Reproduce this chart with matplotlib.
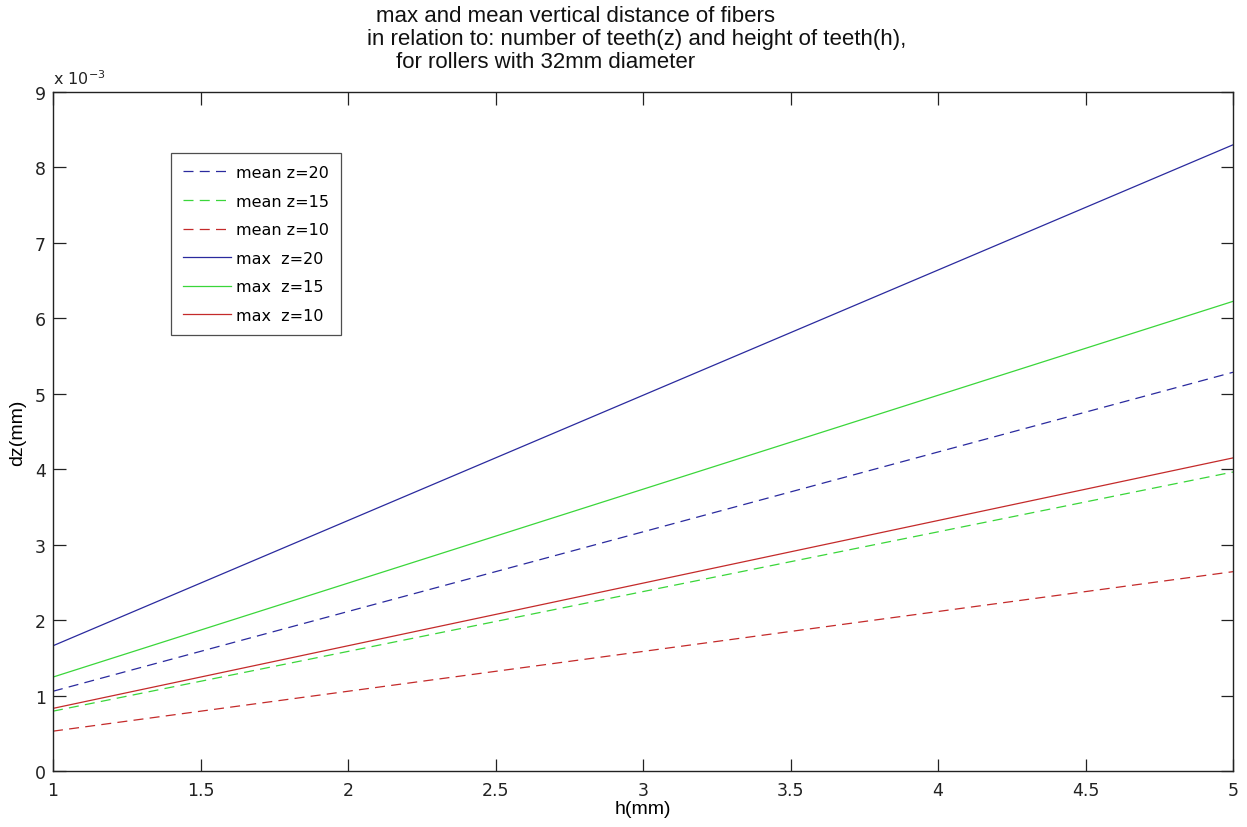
import numpy as np
import matplotlib
matplotlib.use('Agg')
import matplotlib.pyplot as plt

# h (mm) and dz values in units of 1e-3 mm
h = [1, 2, 3, 4, 5]
mean_z20 = [1.057, 2.114, 3.170, 4.228, 5.285]
mean_z15 = [0.793, 1.585, 2.378, 3.170, 3.963]
mean_z10 = [0.528, 1.057, 1.585, 2.114, 2.642]
max_z20 = [1.66, 3.32, 4.98, 6.64, 8.30]
max_z15 = [1.245, 2.49, 3.735, 4.98, 6.225]
max_z10 = [0.83, 1.66, 2.49, 3.32, 4.15]

labels = ['mean z=20', 'mean z=15', 'mean z=10', 'max  z=20', 'max  z=15', 'max  z=10']

blue = '#2a2a9e'
green = '#3ad63a'
red = '#c42a2a'

fig = plt.figure(figsize=(12.47, 8.28), dpi=100)
ax = fig.add_axes([53/1247, 1 - 772/828, (1233-53)/1247, (772-93)/828])

dash = (0, (8, 5))
ax.plot(h, mean_z20, color=blue, lw=0.9, linestyle=dash, label=labels[0])
ax.plot(h, mean_z15, color=green, lw=0.9, linestyle=dash, label=labels[1])
ax.plot(h, mean_z10, color=red, lw=0.9, linestyle=dash, label=labels[2])
ax.plot(h, max_z20, color=blue, lw=0.9, label=labels[3])
ax.plot(h, max_z15, color=green, lw=0.9, label=labels[4])
ax.plot(h, max_z10, color=red, lw=0.9, label=labels[5])

ax.set_xlim(1, 5)
ax.set_ylim(0, 9)
ax.set_xticks(np.arange(1, 5.01, 0.5))
ax.set_xticklabels(['1', '1.5', '2', '2.5', '3', '3.5', '4', '4.5', '5'])
ax.set_yticks(range(0, 10))
ax.tick_params(direction='in', length=9, width=0.9, top=True, right=True,
               labelsize=12.5, colors='#222222')
ax.tick_params(axis='x', pad=7)
ax.tick_params(axis='y', pad=5)
for s in ax.spines.values():
    s.set_linewidth(1.0)
    s.set_color('#222222')

ax.set_xlabel('h(mm)', fontsize=14, family='Liberation Sans', labelpad=1)
ax.set_ylabel('dz(mm)', fontsize=14, family='Liberation Sans', labelpad=6)

ax.text(0.0, 1.008, r'x 10$^{-3}$', transform=ax.transAxes, fontsize=11.5,
        color='#222222', ha='left', va='bottom')

leg = ax.legend(loc='upper left', bbox_to_anchor=(0.1, 0.91), fontsize=11.5,
                frameon=True, fancybox=False, handlelength=3.0, handletextpad=0.3,
                labelspacing=0.85, borderpad=0.75, borderaxespad=0)
leg.get_frame().set_edgecolor('#222222')
leg.get_frame().set_linewidth(0.9)

tkw = dict(fontsize=16, family='Liberation Sans', color='#111111', ha='left', va='center')
fig.text(376/1247, 1 - 16/828, 'max and mean vertical distance of fibers', **tkw)
fig.text(367/1247, 1 - 39/828, 'in relation to: number of teeth(z) and height of teeth(h),', **tkw)
fig.text(396/1247, 1 - 62/828, 'for rollers with 32mm diameter', **tkw)

fig.savefig('out.png', dpi=100)
